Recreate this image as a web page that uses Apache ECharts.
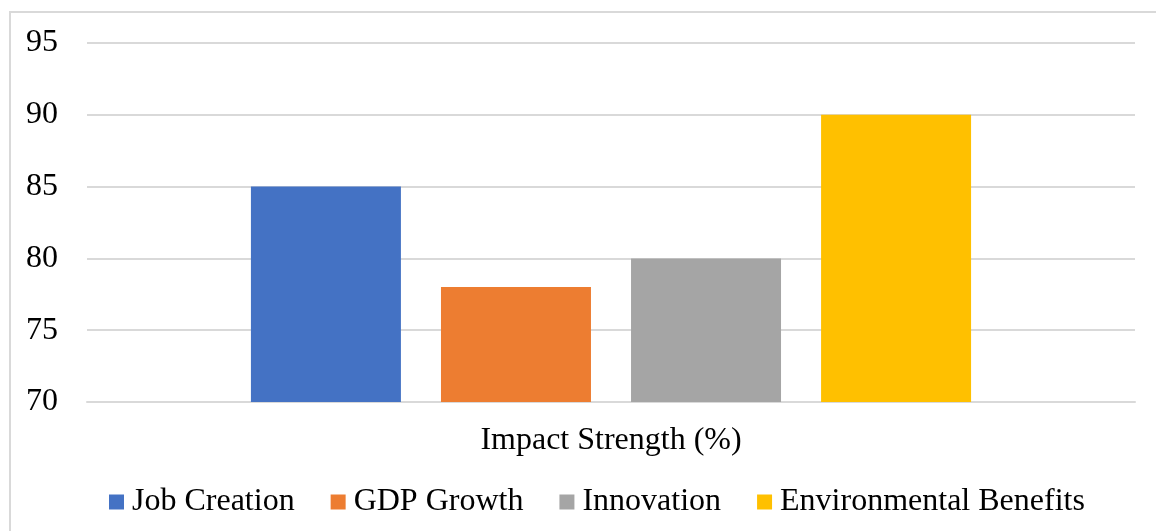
<!DOCTYPE html>
<html>
<head>
<meta charset="utf-8">
<script src="https://cdn.jsdelivr.net/npm/echarts@6/dist/echarts.min.js"></script>
<style>
  html, body { margin: 0; padding: 0; background: #fff; }
  #chart { width: 1156px; height: 531px; }
</style>
</head>
<body>
<div id="chart"></div>
<script>
// values
const categories = ['Impact Strength (%)'];
const seriesNames = ['Job Creation', 'GDP Growth', 'Innovation', 'Environmental Benefits'];
const seriesValues = [[85], [78], [80], [90]];
const colors = ['#4472c4', '#ed7d31', '#a5a5a5', '#ffc000'];

const font = '"Liberation Serif", "Times New Roman", serif';

const myChart = echarts.init(document.getElementById('chart'));
myChart.setOption({
  animation: false,
  textStyle: { fontFamily: font },
  graphic: [{
    type: 'rect',
    shape: { x: 10, y: 12, width: 1160, height: 540 },
    style: { fill: 'none', stroke: '#d9d9d9', lineWidth: 2 },
    silent: true,
    z: -1
  }],
  grid: { left: 87, right: 21, top: 43, bottom: 129, containLabel: false },
  legend: {
    top: 481,
    left: 104,
    itemWidth: 15,
    itemHeight: 15,
    itemGap: 36,
    icon: 'rect',
    textStyle: { fontFamily: font, fontSize: 32, color: '#000', padding: [0, 0, 0, 3] },
    data: seriesNames
  },
  xAxis: {
    type: 'category',
    data: categories,
    axisLine: { show: true, lineStyle: { color: '#d9d9d9', width: 2 } },
    axisTick: { show: false },
    axisLabel: { fontFamily: font, fontSize: 32, color: '#000', margin: 23 }
  },
  yAxis: {
    type: 'value',
    min: 70,
    max: 95,
    interval: 5,
    axisLine: { show: false },
    axisTick: { show: false },
    splitLine: { lineStyle: { color: '#d9d9d9', width: 2 } },
    axisLabel: { fontFamily: font, fontSize: 32, color: '#000', margin: 29 }
  },
  series: seriesNames.map((name, i) => ({
    name: name,
    type: 'bar',
    data: seriesValues[i],
    barWidth: 150,
    barGap: '26.7%',
    itemStyle: { color: colors[i] }
  }))
});
</script>
</body>
</html>
